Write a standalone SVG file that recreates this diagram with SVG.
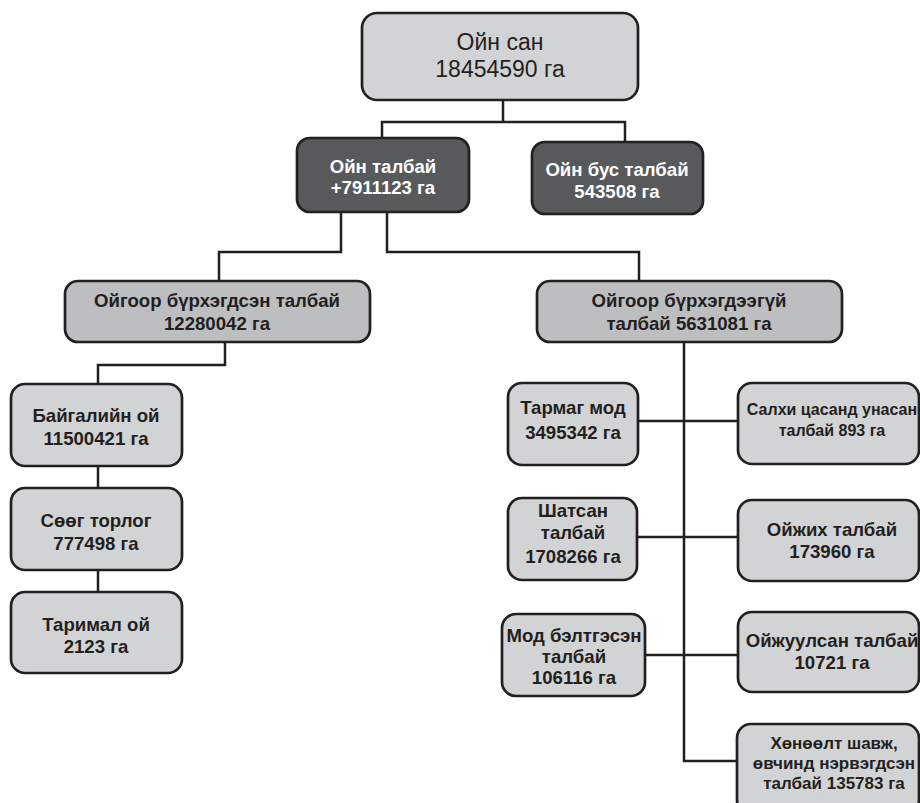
<svg xmlns="http://www.w3.org/2000/svg" width="920" height="803" viewBox="0 0 920 803">
<style>
.box{stroke:#231f20;stroke-width:2.7}
.l{fill:#d1d3d4}
.m{fill:#bcbec0}
.d{fill:#58595b}
text{font-family:"Liberation Sans",Arial,sans-serif;text-anchor:middle;font-weight:bold;font-size:18.6px;fill:#231f20}
.w{fill:#ffffff}
.r{font-weight:normal;font-size:23px}
.s{font-size:16px}
.t{font-size:17px}
.c{fill:none;stroke:#231f20;stroke-width:2.5}
</style>
<rect width="920" height="803" fill="#ffffff"/>
<g id="connectors" class="c">
<path d="M503 100V122M382 138V122H625V142"/>
<path d="M341 212V252H219V281M387 212V252H639V281"/>
<path d="M225 342V365H98V384M98 466V488M98 570V592"/>
<path d="M684 342V761H737M638 421H738M637 537H738M645 655H738"/>
</g>
<g id="root"><rect class="box l" x="362" y="13" width="276" height="87" rx="15"/><text class="r" x="500" y="50">Ойн сан</text><text class="r" x="500" y="77">18454590 га</text></g>
<g id="oin-talbai"><rect class="box d" x="297" y="138" width="172" height="74" rx="13"/><text class="w" x="383" y="173">Ойн талбай</text><text class="w" x="383" y="194">+7911123 га</text></g>
<g id="oin-bus"><rect class="box d" x="532" y="142" width="171" height="72" rx="13"/><text class="w" x="617" y="176">Ойн бус талбай</text><text class="w" x="617" y="198">543508 га</text></g>
<g id="burhegdsen"><rect class="box m" x="65" y="281" width="305" height="61" rx="13"/><text x="217" y="307">Ойгоор бүрхэгдсэн талбай</text><text x="217" y="330">12280042 га</text></g>
<g id="burhegdeegui"><rect class="box m" x="537" y="281" width="305" height="61" rx="13"/><text x="689" y="307">Ойгоор бүрхэгдээгүй</text><text x="689" y="330">талбай 5631081 га</text></g>
<g id="baigaliin"><rect class="box l" x="11" y="384" width="171" height="82" rx="14"/><text x="96" y="422">Байгалийн ой</text><text x="96" y="445">11500421 га</text></g>
<g id="soog"><rect class="box l" x="11" y="488" width="171" height="82" rx="14"/><text x="96" y="527">Сөөг торлог</text><text x="96" y="550">777498 га</text></g>
<g id="tarimal"><rect class="box l" x="11" y="592" width="171" height="81" rx="14"/><text x="96" y="631">Таримал ой</text><text x="96" y="653">2123 га</text></g>
<g id="tarmag"><rect class="box l" x="508" y="383" width="130" height="82" rx="14"/><text x="573" y="414">Тармаг мод</text><text x="573" y="439">3495342 га</text></g>
<g id="shatsan"><rect class="box l" x="508" y="498" width="129" height="82" rx="14"/><text x="573" y="517">Шатсан</text><text x="573" y="539">талбай</text><text x="573" y="563">1708266 га</text></g>
<g id="mod-beltgesen"><rect class="box l" x="502" y="614" width="143" height="82" rx="14"/><text x="574" y="642">Мод бэлтгэсэн</text><text x="574" y="663">талбай</text><text x="574" y="684">106116 га</text></g>
<g id="salhi"><rect class="box l" x="738" y="383" width="181" height="81" rx="14"/><text class="s" x="832" y="415">Салхи цасанд унасан</text><text class="s" x="832" y="436">талбай 893 га</text></g>
<g id="oijih"><rect class="box l" x="738" y="500" width="181" height="81" rx="14"/><text x="832" y="536">Ойжих талбай</text><text x="832" y="558">173960 га</text></g>
<g id="oijuulsan"><rect class="box l" x="738" y="612" width="181" height="80" rx="14"/><text x="832" y="647">Ойжуулсан талбай</text><text x="832" y="669">10721 га</text></g>
<g id="honoolt"><rect class="box l" x="737" y="724" width="182" height="90" rx="14"/><text class="t" x="834" y="749">Хөнөөлт шавж,</text><text class="t" x="834" y="769">өвчинд нэрвэгдсэн</text><text class="t" x="834" y="789">талбай 135783 га</text></g>
</svg>
